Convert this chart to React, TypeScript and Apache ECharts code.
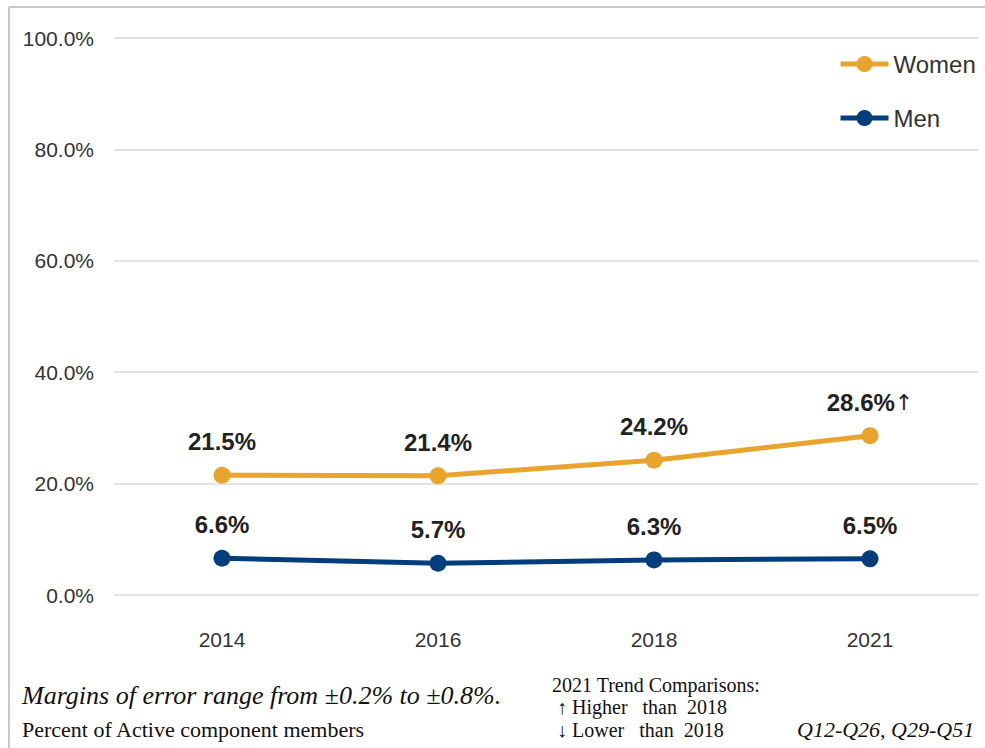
import React, { useEffect, useRef } from "react";
import * as echarts from "echarts";

const years = ["2014", "2016", "2018", "2021"];
const women = [21.5, 21.4, 24.2, 28.6];
const men = [6.6, 5.7, 6.3, 6.5];
const womenMarks = ["", "", "", "↑"];
const menMarks = ["", "", "", ""];
const yTicks = [0, 20, 40, 60, 80, 100];

const SANS = "'Liberation Sans', Arial, sans-serif";
const SERIF = "'Liberation Serif', 'Times New Roman', serif";

export default function App() {
  const ref = useRef<HTMLDivElement>(null);
  useEffect(() => {
    if (!ref.current) return;
    const chart = echarts.init(ref.current, undefined, { renderer: "svg" });
    const mkLabel = (marks: string[]) => ({
      show: true,
      position: "top",
      distance: 13,
      formatter: (p: any) =>
        marks[p.dataIndex]
          ? `{b|${p.value.toFixed(1)}%}{a|${marks[p.dataIndex]}}`
          : `{b|${p.value.toFixed(1)}%}`,
      rich: {
        b: { fontFamily: SANS, fontSize: 24, fontWeight: "bold", color: "#222" },
        a: { fontFamily: "'DejaVu Sans', sans-serif", fontSize: 22, color: "#222" },
      },
    });
    chart.setOption({
      animation: false,
      backgroundColor: "#ffffff",
      grid: { left: 114, right: 7, top: 38, bottom: 153 },
      legend: {
        orient: "vertical",
        left: 833,
        top: 47,
        itemWidth: 48,
        itemHeight: 20,
        itemGap: 30,
        lineStyle: { width: 5 },
        textStyle: { fontFamily: SANS, fontSize: 24, color: "#333" },
        data: ["Women", "Men"],
      },
      xAxis: {
        type: "category",
        data: years,
        boundaryGap: true,
        axisLine: { show: false },
        axisTick: { show: false },
        axisLabel: { margin: 34, fontFamily: SANS, fontSize: 21, color: "#333" },
      },
      yAxis: {
        type: "value",
        min: yTicks[0],
        max: yTicks[yTicks.length - 1],
        interval: 20,
        axisLine: { show: false },
        axisTick: { show: false },
        axisLabel: {
          margin: 20,
          fontFamily: SANS,
          fontSize: 21,
          color: "#333",
          formatter: (v: number) => v.toFixed(1) + "%",
        },
        splitLine: { lineStyle: { color: "#d9d9d9", width: 1.5 } },
      },
      series: [
        {
          name: "Women",
          type: "line",
          data: women,
          symbol: "circle",
          symbolSize: 17,
          itemStyle: { color: "#E9A42E" },
          lineStyle: { color: "#E9A42E", width: 5 },
          label: mkLabel(womenMarks),
        },
        {
          name: "Men",
          type: "line",
          data: men,
          symbol: "circle",
          symbolSize: 17,
          itemStyle: { color: "#033D7C" },
          lineStyle: { color: "#033D7C", width: 5 },
          label: mkLabel(menMarks),
        },
      ],
      graphic: [
        { type: "line", shape: { x1: 9, y1: 7, x2: 985, y2: 7 }, style: { stroke: "#c8c8c8", lineWidth: 2 } },
        { type: "line", shape: { x1: 9, y1: 7, x2: 9, y2: 748 }, style: { stroke: "#c8c8c8", lineWidth: 2 } },
        {
          type: "text", left: 22, top: 682,
          style: { text: "Margins of error range from ±0.2% to ±0.8%.", font: `italic 26px ${SERIF}`, fill: "#111" },
        },
        {
          type: "text", left: 22, top: 718,
          style: { text: "Percent of Active component members", font: `22px ${SERIF}`, fill: "#111" },
        },
        {
          type: "text", left: 552, top: 675,
          style: { text: "2021 Trend Comparisons:", font: `20px ${SERIF}`, fill: "#111" },
        },
        {
          type: "text", left: 557, top: 697,
          style: { text: "↑ Higher   than  2018", font: `20px ${SERIF}`, fill: "#111" },
        },
        {
          type: "text", left: 557, top: 720,
          style: { text: "↓ Lower   than  2018", font: `20px ${SERIF}`, fill: "#111" },
        },
        {
          type: "text", left: 797, top: 718,
          style: { text: "Q12-Q26, Q29-Q51", font: `italic 22px ${SERIF}`, fill: "#111" },
        },
      ],
    });
    return () => chart.dispose();
  }, []);
  return (
    <div
      ref={ref}
      style={{ position: "fixed", left: 0, top: 0, width: 985, height: 748, background: "#fff" }}
    />
  );
}
